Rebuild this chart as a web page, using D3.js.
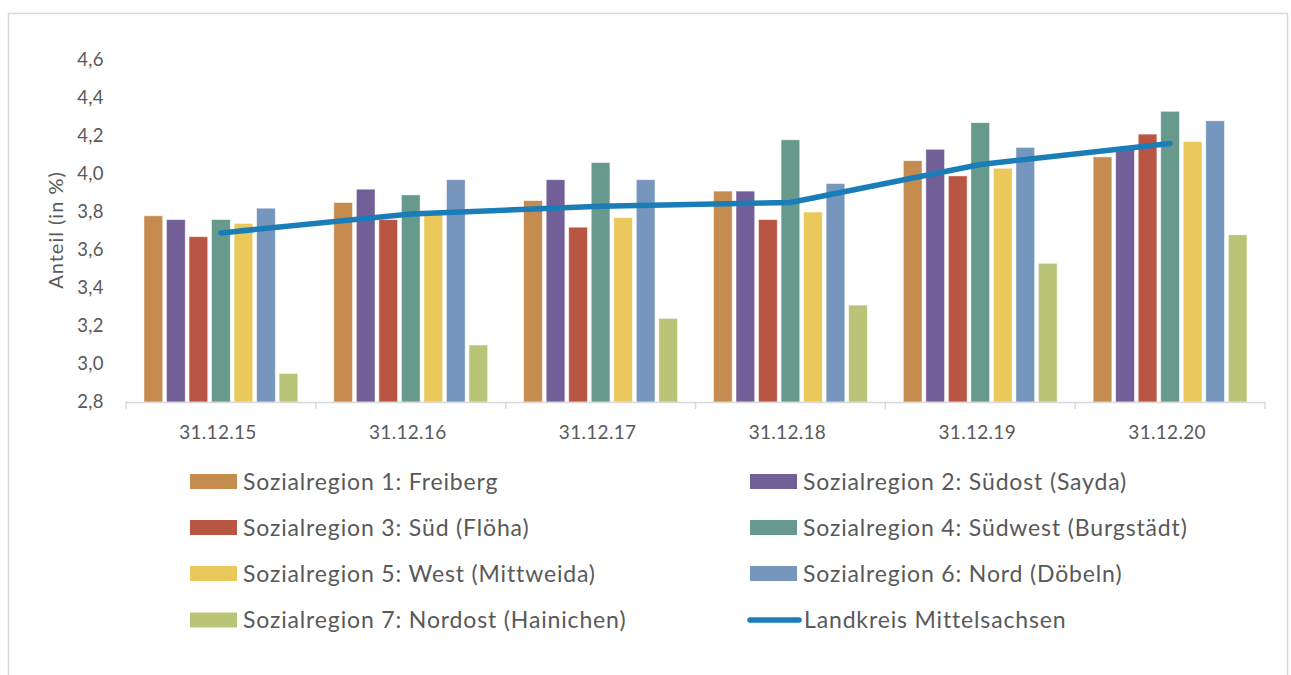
<!DOCTYPE html>
<html>
<head>
<meta charset="utf-8">
<script src="https://cdn.jsdelivr.net/npm/d3@7"></script>
<style>
	body { margin: 0; background: #fff; }
	text { font-family: Lato, "Open Sans", sans-serif; fill: #595959; }
</style>
</head>
<body>
<script>
// categories (Stichtage)
const dates = ["31.12.15", "31.12.16", "31.12.17", "31.12.18", "31.12.19", "31.12.20"];
const regions = [
	"Sozialregion 1: Freiberg",
	"Sozialregion 2: Südost (Sayda)",
	"Sozialregion 3: Süd (Flöha)",
	"Sozialregion 4: Südwest (Burgstädt)",
	"Sozialregion 5: West (Mittweida)",
	"Sozialregion 6: Nord (Döbeln)",
	"Sozialregion 7: Nordost (Hainichen)"
];
const lineName = "Landkreis Mittelsachsen";
const colors = ["#C68B4E", "#735F98", "#B95543", "#679A8C", "#EBC85B", "#7796BE", "#BAC476"];
const lineColor = "#1A7DB8";

// Anteil (in %) je Sozialregion, one array per date
const r1 = [3.78, 3.85, 3.86, 3.91, 4.07, 4.09];
const r2 = [3.76, 3.92, 3.97, 3.91, 4.13, 4.14];
const r3 = [3.67, 3.76, 3.72, 3.76, 3.99, 4.21];
const r4 = [3.76, 3.89, 4.06, 4.18, 4.27, 4.33];
const r5 = [3.74, 3.79, 3.77, 3.80, 4.03, 4.17];
const r6 = [3.82, 3.97, 3.97, 3.95, 4.14, 4.28];
const r7 = [2.95, 3.10, 3.24, 3.31, 3.53, 3.68];
const landkreis = [3.69, 3.79, 3.83, 3.85, 4.05, 4.16];
const yTicks = [2.8, 3.0, 3.2, 3.4, 3.6, 3.8, 4.0, 4.2, 4.4, 4.6];

const series = [r1, r2, r3, r4, r5, r6, r7];

const width = 1291, height = 675;
const svg = d3.select("body").append("svg")
	.attr("width", width)
	.attr("height", height);

// chart frame
svg.append("rect")
	.attr("x", 8.5).attr("y", 13.5)
	.attr("width", 1279).attr("height", 680)
	.attr("fill", "none")
	.attr("stroke", "#D9D9D9")
	.attr("stroke-width", 1.5);

const plotLeft = 126, plotRight = 1265, plotTop = 60, plotBottom = 402;

const x0 = d3.scaleBand().domain(dates).range([plotLeft, plotRight]).padding(0);
const x1 = d3.scaleBand().domain(d3.range(regions.length))
	.range([18, x0.bandwidth() - 18]).paddingInner(0.17);
const y = d3.scaleLinear().domain([2.8, 4.6]).range([plotBottom, plotTop]);

// y labels (no axis line)
svg.append("g")
	.selectAll("text")
	.data(yTicks)
	.enter()
	.append("text")
	.attr("x", 104)
	.attr("y", (d) => y(d))
	.attr("dy", "0.35em")
	.attr("text-anchor", "end")
	.style("font-size", "18.5px")
	.style("letter-spacing", "0.4px")
	.text((d) => d3.format(".1f")(d).replace(".", ","));

svg.append("text")
	.attr("transform", "translate(63,230) rotate(-90)")
	.attr("text-anchor", "middle")
	.style("font-size", "20px")
	.style("letter-spacing", "1px")
	.text("Anteil (in %)");

// bars
const groups = svg.append("g")
	.selectAll("g")
	.data(dates)
	.enter()
	.append("g")
	.attr("transform", (d) => `translate(${x0(d)},0)`);

groups.selectAll("rect")
	.data((d, i) => series.map((s, k) => ({ k: k, v: s[i] })))
	.enter()
	.append("rect")
	.attr("x", (d) => x1(d.k))
	.attr("y", (d) => y(d.v))
	.attr("width", x1.bandwidth())
	.attr("height", (d) => plotBottom - y(d.v))
	.attr("fill", (d) => colors[d.k])
	.attr("stroke", "#ffffff")
	.attr("stroke-opacity", 0.6)
	.attr("stroke-width", 0.8);

// x axis
const xAxis = svg.append("g");
xAxis.append("line")
	.attr("x1", plotLeft).attr("x2", plotRight)
	.attr("y1", plotBottom + 0.5).attr("y2", plotBottom + 0.5)
	.attr("stroke", "#D9D9D9").attr("stroke-width", 1.5);
xAxis.selectAll(".tick")
	.data(d3.range(dates.length + 1))
	.enter()
	.append("line")
	.attr("x1", (i) => plotLeft + i * x0.bandwidth())
	.attr("x2", (i) => plotLeft + i * x0.bandwidth())
	.attr("y1", plotBottom)
	.attr("y2", plotBottom + 7)
	.attr("stroke", "#D9D9D9").attr("stroke-width", 1.5);
xAxis.selectAll("text")
	.data(dates)
	.enter()
	.append("text")
	.attr("x", (d) => x0(d) + x0.bandwidth() / 2 - 3)
	.attr("y", 432)
	.attr("dy", "0.35em")
	.attr("text-anchor", "middle")
	.style("font-size", "19px")
	.style("letter-spacing", "0.3px")
	.text((d) => d);

// Landkreis line
const line = d3.line()
	.x((d, i) => x0(dates[i]) + x0.bandwidth() / 2)
	.y((d) => y(d));
svg.append("path")
	.datum(landkreis)
	.attr("d", line)
	.attr("fill", "none")
	.attr("stroke", lineColor)
	.attr("stroke-width", 5.5)
	.attr("stroke-linecap", "round")
	.attr("stroke-linejoin", "round");

// legend, two columns
const legendItems = regions.map((r, k) => ({ name: r, color: colors[k], type: "bar" }));
legendItems.push({ name: lineName, color: lineColor, type: "line" });
const colX = [190, 750];
const rowY = [481.5, 527.5, 573.5, 620];

const legend = svg.append("g")
	.selectAll("g")
	.data(legendItems)
	.enter()
	.append("g")
	.attr("transform", (d, i) => `translate(${colX[i % 2]},${rowY[Math.floor(i / 2)]})`);

legend.filter((d) => d.type == "bar")
	.append("rect")
	.attr("x", 0).attr("y", -7.5)
	.attr("width", 47).attr("height", 15)
	.attr("fill", (d) => d.color);
legend.filter((d) => d.type == "line")
	.append("line")
	.attr("x1", 0).attr("x2", 49)
	.attr("y1", 0).attr("y2", 0)
	.attr("stroke", (d) => d.color)
	.attr("stroke-width", 5.5)
	.attr("stroke-linecap", "round");
legend.append("text")
	.attr("x", (d) => (d.type == "line" ? 54 : 53))
	.attr("y", 0)
	.attr("dy", "0.35em")
	.style("font-size", "23px")
	.style("letter-spacing", "0.85px")
	.text((d) => d.name);
</script>
</body>
</html>
